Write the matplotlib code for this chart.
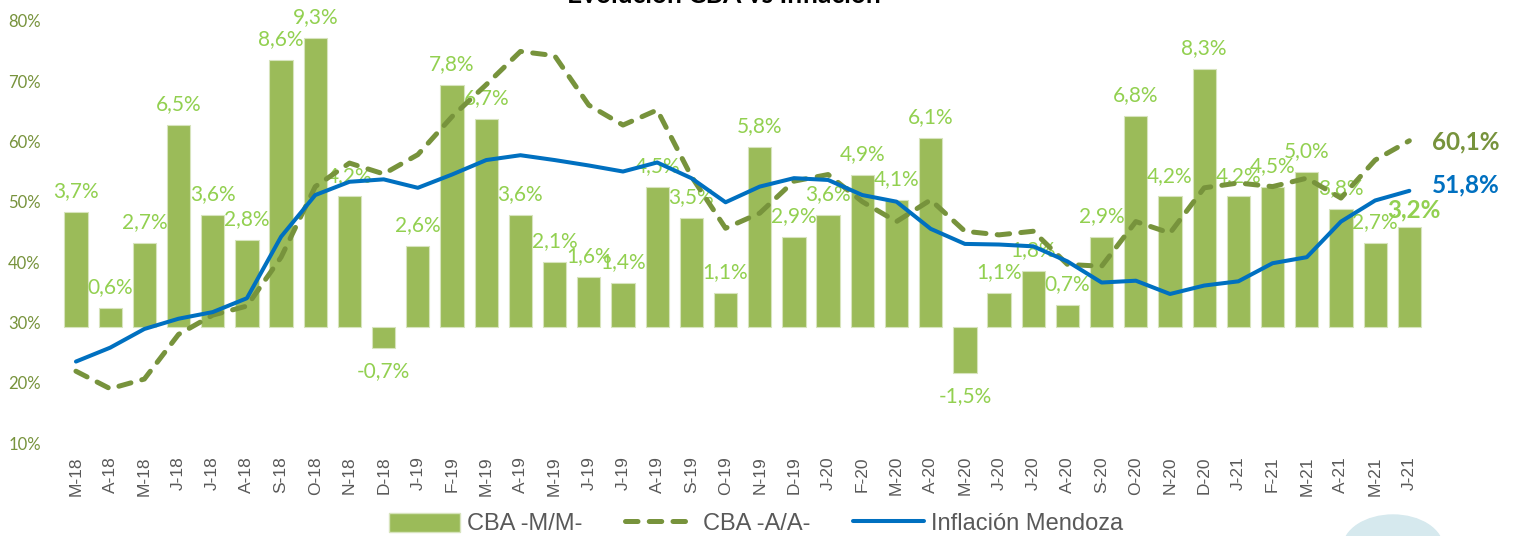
import matplotlib.pyplot as plt
from matplotlib.patches import Patch, Ellipse
from matplotlib.lines import Line2D

# months March 2018 .. June 2021
meses = ['M-18', 'A-18', 'M-18', 'J-18', 'J-18', 'A-18', 'S-18', 'O-18', 'N-18', 'D-18',
         'J-19', 'F-19', 'M-19', 'A-19', 'M-19', 'J-19', 'J-19', 'A-19', 'S-19', 'O-19',
         'N-19', 'D-19', 'J-20', 'F-20', 'M-20', 'A-20', 'M-20', 'J-20', 'J-20', 'A-20',
         'S-20', 'O-20', 'N-20', 'D-20', 'J-21', 'F-21', 'M-21', 'A-21', 'M-21', 'J-21']

# CBA month over month (bars, %)
cba_mm = [3.7, 0.6, 2.7, 6.5, 3.6, 2.8, 8.6, 9.3, 4.2, -0.7,
          2.6, 7.8, 6.7, 3.6, 2.1, 1.6, 1.4, 4.5, 3.5, 1.1,
          5.8, 2.9, 3.6, 4.9, 4.1, 6.1, -1.5, 1.1, 1.8, 0.7,
          2.9, 6.8, 4.2, 8.3, 4.2, 4.5, 5.0, 3.8, 2.7, 3.2]

# CBA year over year (dashed, %)
cba_aa = [21.9, 19.0, 20.6, 28.0, 31.2, 32.7, 40.8, 52.5, 56.4, 54.6,
          57.8, 64.1, 69.4, 74.9, 74.2, 66.0, 62.7, 65.2, 54.2, 45.6,
          48.1, 53.4, 54.5, 50.0, 46.7, 50.3, 45.1, 44.5, 45.1, 39.6,
          39.3, 46.7, 44.8, 52.3, 53.1, 52.5, 53.9, 50.6, 56.9, 60.1]

# Inflacion Mendoza year over year (%)
infl = [23.5, 25.8, 28.9, 30.6, 31.7, 34.0, 44.2, 51.1, 53.3, 53.7,
        52.3, 54.5, 56.9, 57.7, 56.9, 56.0, 55.0, 56.5, 53.9, 49.9,
        52.5, 53.9, 53.6, 51.1, 50.0, 45.5, 43.0, 42.9, 42.6, 40.1,
        36.6, 36.9, 34.7, 36.1, 36.8, 39.8, 40.8, 46.7, 50.2, 51.8]

yticks = [10, 20, 30, 40, 50, 60, 70, 80]

c_bar = '#9BBB59'
c_lbl = '#92D050'
c_dash = '#77933C'
c_blue = '#0070C0'
c_axis = '#595959'

fig = plt.figure(figsize=(15.17, 5.36), dpi=100)
ax = fig.add_axes([0.0388, 0.1735, 0.9015, 0.7879])
ax2 = ax.twinx()
ax.set_zorder(2)
ax.patch.set_visible(False)

x = list(range(len(meses)))

# bars on the hidden secondary axis
ax2.bar(x, cba_mm, width=0.68, color=c_bar, edgecolor='#D7E4BD', linewidth=0.8)
ax2.set_ylim(-3.752, 9.871)
ax2.axis('off')
for i, v in enumerate(cba_mm):
    txt = f'{v:.1f}%'.replace('.', ',')
    if i == len(cba_mm) - 1:
        ax2.annotate(txt, (i, v), xytext=(3, 13), textcoords='offset points',
                     ha='center', va='center', color=c_lbl, fontsize=17.5,
                     fontweight='bold', family=['Lato', 'DejaVu Sans'])
    else:
        off = 15 if v >= 0 else -16.5
        ax2.annotate(txt, (i, v), xytext=(0, off), textcoords='offset points',
                     ha='center', va='center', color=c_lbl, fontsize=15,
                     family=['Lato', 'DejaVu Sans'])

# lines
ax.plot(x, cba_aa, color=c_dash, linewidth=3.6, dashes=(2.5, 2.25),
        dash_capstyle='round', solid_capstyle='round')
ax.plot(x, infl, color=c_blue, linewidth=2.9, solid_capstyle='round')

ax.annotate(f'{cba_aa[-1]:.1f}%'.replace('.', ','), (x[-1], cba_aa[-1]), xytext=(16.5, -1),
            textcoords='offset points', ha='left', va='center', color=c_dash,
            fontsize=17.5, fontweight='bold', family=['Lato', 'DejaVu Sans'])
ax.annotate(f'{infl[-1]:.1f}%'.replace('.', ','), (x[-1], infl[-1]), xytext=(16.5, 4),
            textcoords='offset points', ha='left', va='center', color=c_blue,
            fontsize=17.5, fontweight='bold', family=['Lato', 'DejaVu Sans'])

ax.set_xlim(-0.5, len(meses) - 0.5)
ax.set_ylim(10, 80)
ax.set_yticks(yticks)
ax.set_yticklabels([f'{t}%' for t in yticks], color=c_dash, fontsize=12,
                   family=['Lato', 'DejaVu Sans'])
ax.set_xticks(x)
ax.set_xticklabels(meses, rotation=90, color=c_axis, fontsize=12.5,
                   family=['Liberation Sans', 'DejaVu Sans'])
ax.tick_params(axis='y', length=0, pad=13)
ax.tick_params(axis='x', length=0, pad=9.4)
for s in ax.spines.values():
    s.set_visible(False)

fig.text(0.477, 0.9938, 'Evolución CBA vs Inflación', ha='center', va='baseline',
         fontsize=19, fontweight='bold', family=['Lato', 'DejaVu Sans'])

handles = [Patch(facecolor=c_bar, edgecolor='#D7E4BD'),
           Line2D([0], [0], color=c_dash, linewidth=3.6, dashes=(2.5, 2.25),
                  dash_capstyle='round'),
           Line2D([0], [0], color=c_blue, linewidth=2.9, solid_capstyle='round')]
fig.legend(handles, ['CBA -M/M-', 'CBA -A/A-', 'Inflación Mendoza'], ncol=3,
           loc='center', bbox_to_anchor=(0.4984, 0.0224), frameon=False,
           handlelength=3.0, handleheight=0.9, handletextpad=0.3, columnspacing=1.8,
           borderpad=0, borderaxespad=0,
           prop={'family': ['Liberation Sans', 'DejaVu Sans'], 'size': 17},
           labelcolor=c_axis)

# light logo fragment in the lower right corner
fig.patches.append(Ellipse((1393 / 1517, (536 - 548) / 536), 100 / 1517,
                           66 / 536, transform=fig.transFigure, color='#D6E9EE',
                           zorder=0))

fig.savefig('out.png', dpi=100)
